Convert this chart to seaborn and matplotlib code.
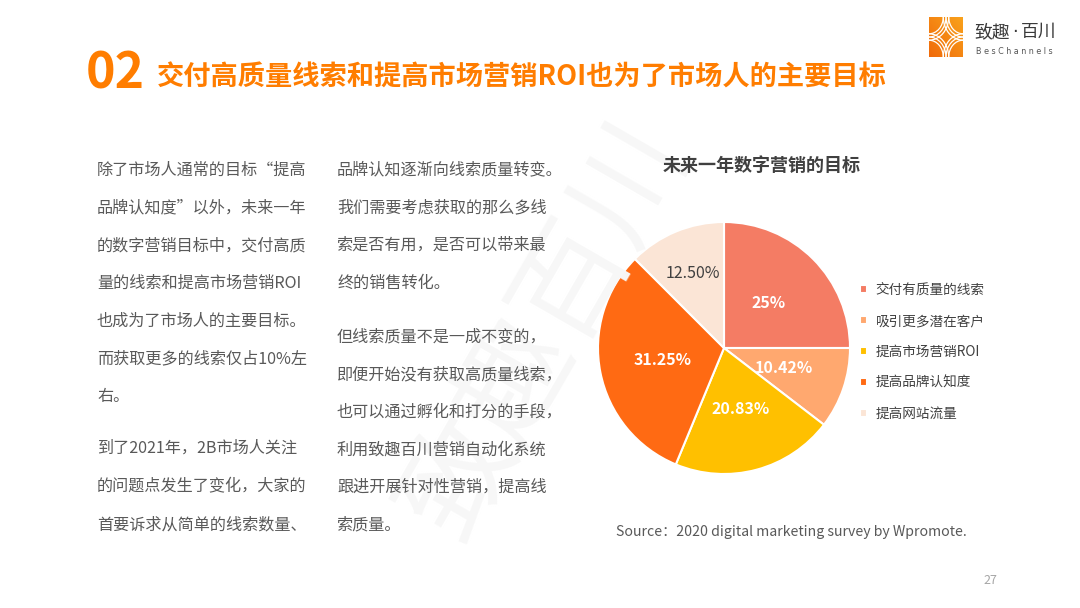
import matplotlib
matplotlib.use("Agg")
import matplotlib.pyplot as plt
import matplotlib.patches as mpatches
import numpy as np
import seaborn as sns

# ---- data ----
categories = ["交付有质量的线索", "吸引更多潜在客户", "提高市场营销ROI", "提高品牌认知度", "提高网站流量"]
values = [25, 10.42, 20.83, 31.25, 12.5]
value_labels = ["25%", "10.42%", "20.83%", "31.25%", "12.50%"]
colors = ["#F47C64", "#FFA86F", "#FFC000", "#FF6A13", "#FBE5D6"]

chart_title = "未来一年数字营销的目标"
page_title_num = "02"
page_title = "交付高质量线索和提高市场营销ROI也为了市场人的主要目标"
source_text = "Source：2020 digital marketing survey by Wpromote."
page_number = "27"

left_lines = ["除了市场人通常的目标“提高", "品牌认知度”以外，未来一年", "的数字营销目标中，交付高质",
              "量的线索和提高市场营销ROI", "也成为了市场人的主要目标。", "而获取更多的线索仅占10%左", "右。"]
left_lines2 = ["到了2021年，2B市场人关注", "的问题点发生了变化，大家的", "首要诉求从简单的线索数量、"]
right_lines = ["品牌认知逐渐向线索质量转变。", "我们需要考虑获取的那么多线", "索是否有用，是否可以带来最", "终的销售转化。"]
right_lines2 = ["但线索质量不是一成不变的，", "即便开始没有获取高质量线索，", "也可以通过孵化和打分的手段，",
                "利用致趣百川营销自动化系统", "跟进开展针对性营销，提高线", "索质量。"]

sns.set_theme(style="white")
FAM = ["Noto Sans CJK SC", "DejaVu Sans"]
plt.rcParams["font.family"] = FAM

W, H = 1080, 608
fig = plt.figure(figsize=(W / 100, H / 100), dpi=100)
fig.patch.set_facecolor("white")


def px(x, y):
    return x / W, 1 - y / H


# watermark
fig.text(*px(545, 330), "致趣百川", fontsize=82, color="#F7F7F7", rotation=60,
         ha="center", va="center", fontweight="light", zorder=0)

# title
fig.text(*px(86, 74), page_title_num, fontsize=36, fontweight="bold", color="#FF7D00",
         ha="left", va="center")
fig.text(*px(157, 78), page_title, fontsize=19.6, fontweight="bold", color="#FF7D00",
         ha="left", va="center")

# logo
lax = fig.add_axes([929 / W, 1 - 57 / H, 34 / W, 40 / H])
grad = np.linspace(0, 1, 64)
img = np.outer(grad[::-1], np.ones(64)) * 0.5 + np.outer(np.ones(64), grad) * 0.5
cmap = matplotlib.colors.LinearSegmentedColormap.from_list("lg", ["#F06A0A", "#F9A21C"])
lax.imshow(img, extent=(0, 1, 0, 1), cmap=cmap, aspect="auto")
for lcx, lcy, t1, t2 in [(0, 0, 0, 90), (1, 1, 180, 270), (0, 1, 270, 360), (1, 0, 90, 180)]:
    for rr in (0.42, 0.5, 0.58):
        lax.add_patch(mpatches.Arc((lcx, lcy), 2 * rr, 2 * rr, theta1=t1, theta2=t2,
                                   color="white", lw=0.9))
lax.set_xlim(0, 1); lax.set_ylim(0, 1); lax.axis("off")
fig.text(*px(974, 32), "致趣", fontsize=12.8, color="#3A3A3A", ha="left", va="center")
fig.text(*px(1012, 32), "·", fontsize=12.8, color="#3A3A3A", ha="left", va="center",
         family="DejaVu Sans")
fig.text(*px(1021, 32), "百川", fontsize=12.8, color="#3A3A3A", ha="left", va="center")
fig.text(*px(976, 51), "B e s C h a n n e l s", fontsize=5.8, color="#555555", ha="left", va="center",
         family="DejaVu Sans")

# body text
def column(x, y0, lines, step=37.8, color="#595959"):
    for i, s in enumerate(lines):
        fig.text(*px(x, y0 + i * step), s, fontsize=11.6, color=color, ha="left", va="center")

column(97, 170, left_lines)
column(97, 448, left_lines2, step=38.5)
column(337, 170, right_lines, step=37.8)
column(337, 337, right_lines2, step=37.6)

# chart title
fig.text(*px(762, 165), chart_title, fontsize=13, fontweight="bold", color="#404040",
         ha="center", va="center")

# pie
cx, cy, r = 724, 348, 126
ax = fig.add_axes([(cx - r) / W, 1 - (cy + r) / H, 2 * r / W, 2 * r / H])
wedges, texts, autotexts = ax.pie(values, colors=colors, startangle=90, counterclock=False,
                                  labels=None, autopct=lambda p: "", pctdistance=0.5,
                                  wedgeprops=dict(edgecolor="white", linewidth=1.5))
for i, t in enumerate(autotexts):
    t.set_text(value_labels[i])
    t.set_fontsize(11.5)
    if i == len(autotexts) - 1:
        x, y = t.get_position()
        t.set_position((x * 1.28, y * 1.28))
        t.set_color("#404040")
        t.set_fontweight("normal")
    else:
        t.set_color("white")
        t.set_fontweight("bold")
ax.set_xlim(-1, 1); ax.set_ylim(-1, 1)
ax.set_aspect("equal")
ax.axis("off")

leg = fig.legend(wedges, categories, loc="upper left", bbox_to_anchor=px(860, 283),
                 frameon=False, fontsize=9.8, handlelength=0.55, handleheight=0.55,
                 handletextpad=0.6, labelspacing=1.25, borderaxespad=0, borderpad=0)
for t in leg.get_texts():
    t.set_color("#404040")

# source & page number
fig.text(*px(616, 532), source_text, fontsize=10.2, color="#595959", ha="left", va="center")
fig.text(*px(990, 580), page_number, fontsize=9, color="#A6A6A6", ha="center", va="center")

fig.savefig("out.png", dpi=100, facecolor="white")
